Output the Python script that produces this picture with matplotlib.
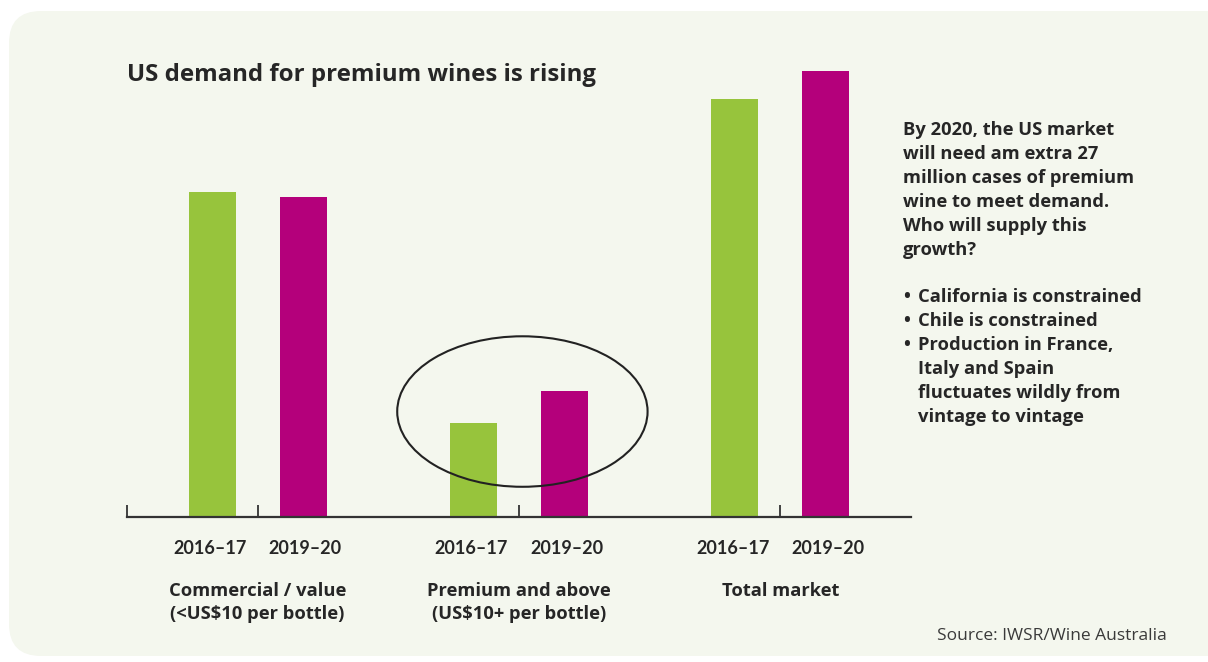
import numpy as np
import matplotlib.pyplot as plt
from matplotlib.patches import FancyBboxPatch, Ellipse

# data (million cases)
groups = ["Commercial / value\n(<US$10 per bottle)",
          "Premium and above\n(US$10+ per bottle)",
          "Total market"]
years = ["2016\u201317", "2019\u201320"]
vals_1617 = [274, 79, 353]
vals_1920 = [270, 106, 376]

green = "#97c43c"
magenta = "#b4007b"
txt = "#262626"
bg = "#f4f7ee"

plt.rcParams['font.family'] = ['Open Sans', 'DejaVu Sans']
wt = "bold"

fig = plt.figure(figsize=(12.08, 6.62), dpi=100)

# background panel in pixel coords
bgax = fig.add_axes([0, 0, 1, 1], zorder=0)
bgax.set_xlim(0, 1208)
bgax.set_ylim(662, 0)
bgax.axis("off")
bgax.add_patch(FancyBboxPatch((9, 11), 1230, 645, boxstyle="round,pad=0,rounding_size=32",
                              fc=bg, ec="none"))

bgax.text(127, 75, "US demand for premium wines is rising", fontsize=17.3, fontweight=wt,
          color=txt, va="center", ha="left")

note = ["By 2020, the US market", "will need am extra 27", "million cases of premium",
        "wine to meet demand.", "Who will supply this", "growth?"]
for i, line in enumerate(note):
    bgax.text(903, 130 + 24 * i, line, fontsize=13.2, fontweight=wt, color=txt, va="center")
bullets = [["California is constrained"], ["Chile is constrained"],
           ["Production in France,", "Italy and Spain", "fluctuates wildly from", "vintage to vintage"]]
y = 297
for b in bullets:
    bgax.text(903, y, "\u2022", fontsize=13.2, fontweight=wt, color=txt, va="center")
    for line in b:
        bgax.text(918, y, line, fontsize=13.2, fontweight=wt, color=txt, va="center")
        y += 24

bgax.text(1167, 636, "Source: IWSR/Wine Australia", fontsize=12.5, color="#3a3a3a",
          ha="right", va="center")

# main chart
ax = fig.add_axes([127 / 1208, 145 / 662, 784 / 1208, 474 / 662], zorder=1)
ax.patch.set_alpha(0)
x = np.arange(len(groups))
off = 0.174
w = 0.18
ax.bar(x - off, vals_1617, w, color=green)
ax.bar(x + off, vals_1920, w, color=magenta)
ax.set_xlim(-0.5, 2.5)
ax.set_ylim(0, 400)

for s in ["left", "top", "right"]:
    ax.spines[s].set_visible(False)
ax.spines["bottom"].set_color("#333333")
ax.spines["bottom"].set_linewidth(1.6)
ax.set_yticks([])
ax.set_xticks([-0.5, 0, 1, 2])
ax.set_xticklabels([])
ax.tick_params(axis="x", direction="in", length=9, width=1.3, color="#333333")

for i in range(len(groups)):
    for j, yr in enumerate(years):
        ax.annotate(yr, (x[i] + (2 * j - 1) * off * 1.05, 0), xycoords=("data", "axes fraction"),
                    xytext=(0, -23), textcoords="offset points", ha="center", va="center",
                    fontsize=13, fontweight="bold", color=txt, family=["Lato", "DejaVu Sans"])
    ax.annotate(groups[i], (x[i], 0), xycoords=("data", "axes fraction"),
                xytext=(0, -47), textcoords="offset points", ha="center", va="top",
                fontsize=13.2, fontweight=wt, color=txt, linespacing=1.35)

# highlight the premium pair
ax.add_patch(Ellipse((1.013, 89), 0.958, 127, fill=False, ec="#222222", lw=1.5))

fig.savefig("out.png", dpi=100)
